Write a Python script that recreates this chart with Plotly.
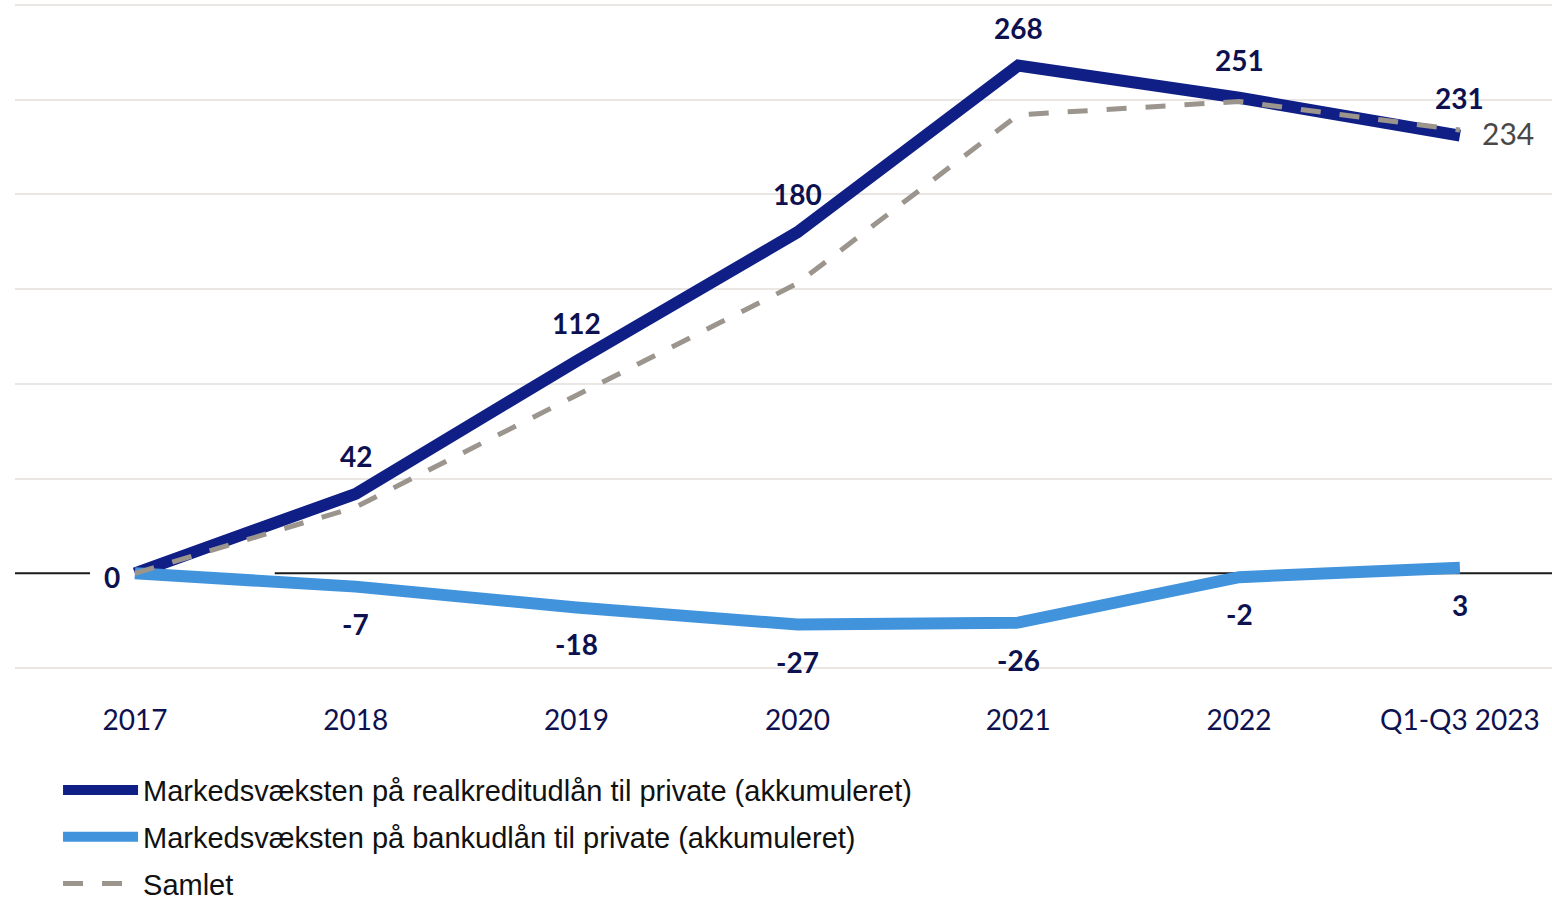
import plotly.graph_objects as go

categories = ["2017", "2018", "2019", "2020", "2021", "2022", "Q1-Q3 2023"]
realkredit = [0, 42, 112, 180, 268, 251, 231]
bank = [0, -7, -18, -27, -26, -2, 3]
samlet = [0, 35, 94, 153, 242, 249, 234]

names = [
    "Markedsvæksten på realkreditudlån til private (akkumuleret)",
    "Markedsvæksten på bankudlån til private (akkumuleret)",
    "Samlet",
]

NAVY = "#101f86"
BLUE = "#4193dc"
GRAY = "#9b958e"
LABEL = "#0e1150"

fig = go.Figure()
fig.add_trace(go.Scatter(x=categories, y=realkredit, mode="lines", name=names[0],
                         line=dict(color=NAVY, width=12), legendgroup="a"))
fig.add_trace(go.Scatter(x=categories, y=bank, mode="lines", name=names[1],
                         line=dict(color=BLUE, width=12), legendgroup="b"))
fig.add_trace(go.Scatter(x=categories, y=samlet, mode="lines", name=names[2],
                         line=dict(color=GRAY, width=5, dash="20px,19px"), legendgroup="c"))

lab_font = dict(family="Lato", size=28, color=LABEL, weight="bold")
ann = []
for i, v in enumerate(realkredit):
    if i == 0:
        continue
    ann.append(dict(x=i, y=v, text=str(v), showarrow=False, yshift=38, font=lab_font))
for i, v in enumerate(bank):
    if i == 0:
        ann.append(dict(x=i, y=v, text=str(v), showarrow=False, xshift=-23, yshift=-4, font=lab_font))
    else:
        ann.append(dict(x=i, y=v, text=str(v), showarrow=False, yshift=-37, font=lab_font))
ann.append(dict(x=len(samlet) - 1, y=samlet[-1], text=str(samlet[-1]), showarrow=False,
                xanchor="left", xshift=20, yshift=-3,
                font=dict(family="Lato", size=30, color="#4a4846")))

fig.update_layout(
    width=1552, height=897,
    margin=dict(l=15, r=0, t=3, b=227, autoexpand=False),
    paper_bgcolor="white", plot_bgcolor="white",
    hovermode=False,
    showlegend=True,
    annotations=ann,
    shapes=[
        dict(type="line", xref="paper", yref="y", x0=0, x1=0.0488, y0=0, y1=0,
             line=dict(color="#1a1a1a", width=2), layer="between"),
        dict(type="line", xref="paper", yref="y", x0=0.169, x1=1, y0=0, y1=0,
             line=dict(color="#1a1a1a", width=2), layer="between"),
    ],
    legend=dict(
        x=0.028, y=-0.142,
        xanchor="left", yanchor="top",
        traceorder="grouped", tracegroupgap=6,
        itemwidth=75,
        font=dict(family="Liberation Sans", size=29, color="#111111"),
        bgcolor="rgba(0,0,0,0)",
    ),
    xaxis=dict(
        type="category", range=[-0.543, 6.417],
        showgrid=False, zeroline=False, showline=False, ticks="",
        tickfont=dict(family="Lato", size=28, color=LABEL),
        ticklabelstandoff=31, tickangle=0,
    ),
    yaxis=dict(
        range=[-51, 301], tickvals=[-50, 50, 100, 150, 200, 250, 300],
        showticklabels=False, showgrid=True, gridcolor="#e9e6e3", gridwidth=2,
        zeroline=False, showline=False, ticks="",
    ),
)

fig.write_html("out.html", config={"displayModeBar": False},
               post_script="document.body.style.margin='0';")
